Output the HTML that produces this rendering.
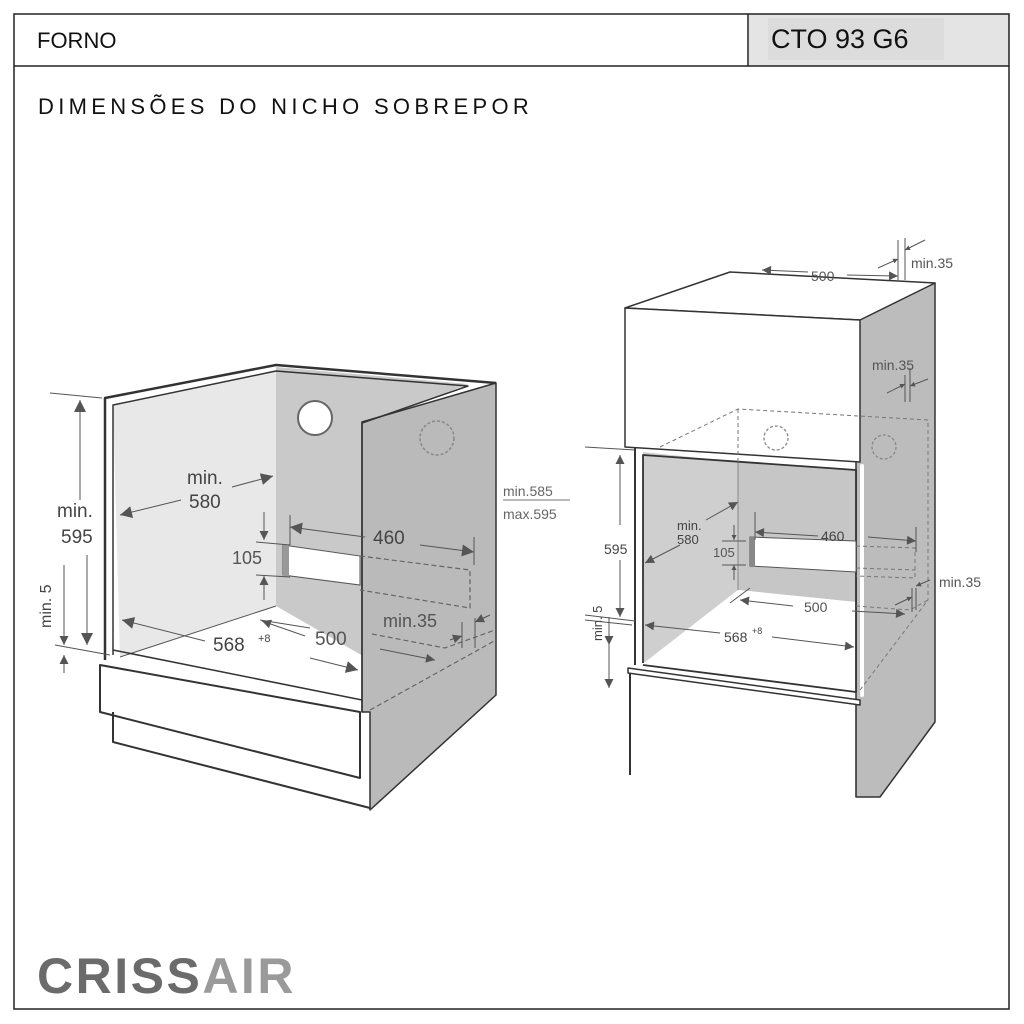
<!DOCTYPE html>
<html><head><meta charset="utf-8"><style>
html,body{margin:0;padding:0;background:#fff}
svg{display:block}
text{font-family:"Liberation Sans",sans-serif}
</style></head><body>
<svg width="1024" height="1024" viewBox="0 0 1024 1024" xmlns="http://www.w3.org/2000/svg">
<defs>
<marker id="a" viewBox="0 0 10 10" refX="10" refY="5" markerWidth="7" markerHeight="5" orient="auto-start-reverse" markerUnits="userSpaceOnUse"><path d="M0,0L10,5L0,10z" fill="#555"/></marker>
<marker id="b" viewBox="0 0 10 10" refX="10" refY="5" markerWidth="22" markerHeight="12" orient="auto-start-reverse" markerUnits="userSpaceOnUse"><path d="M0,0L10,5L0,10z" fill="#555"/></marker>
<marker id="c" viewBox="0 0 10 10" refX="10" refY="5" markerWidth="16" markerHeight="9" orient="auto-start-reverse" markerUnits="userSpaceOnUse"><path d="M0,0L10,5L0,10z" fill="#555"/></marker>
</defs>
<!-- frame -->
<rect x="749" y="14" width="260" height="52" fill="#e4e4e4"/>
<rect x="768" y="18" width="176" height="42" fill="#dcdcdc"/>
<rect x="14" y="14" width="995" height="995" fill="none" stroke="#222" stroke-width="1.5"/>
<line x1="14" y1="66" x2="1009" y2="66" stroke="#222" stroke-width="1.5"/>
<line x1="748" y1="14" x2="748" y2="66" stroke="#222" stroke-width="1.5"/>
<text x="37" y="48" font-size="22" fill="#111">FORNO</text>
<text x="771" y="48" font-size="27" fill="#111">CTO 93 G6</text>
<text x="38" y="114" font-size="22" fill="#111" letter-spacing="4.3">DIMENSÕES DO NICHO SOBREPOR</text>
<text x="37" y="993" font-size="50" font-weight="bold" fill="#6b6b6b" letter-spacing="2.5">CRISS<tspan fill="#9a9a9a">AIR</tspan></text>

<!-- LEFT CABINET -->
<g stroke="#333" stroke-width="1.5" stroke-linejoin="round">
<polygon points="276,367 468,384 370,424 370,660 276,606" fill="#c9c9c9" stroke="none"/>
<polygon points="113,405 276,370 276,606 120,657" fill="#e8e8e8" stroke="none"/>
<polygon points="120,657 276,606 360,662 360,712" fill="#fff" stroke="none"/>
<polygon points="362,422 496,383 496,695 370,810 370,712 362,712" fill="#bababa"/>
<polyline points="105,660 105,398 276,365 496,383" fill="none" stroke-width="2.5"/>
<polyline points="113,655 113,405 276,371 468,386 362,423 362,712" fill="none" stroke-width="1.5"/>
<line x1="120" y1="657" x2="276" y2="606" stroke="#555" stroke-width="1"/>
<polygon points="100,665 360,712 360,778 100,712" fill="#fff" stroke-width="2"/>
<polyline points="113,712 113,742 370,808" fill="none" stroke-width="2"/>
<line x1="113" y1="650" x2="362" y2="700" stroke="#333" stroke-width="1.5"/>
</g>
<circle cx="315" cy="418" r="17" fill="#fff" stroke="#666" stroke-width="2"/>
<circle cx="437" cy="438" r="17" fill="none" stroke="#888" stroke-width="1.5" stroke-dasharray="3,2"/>
<!-- slot -->
<polygon points="283,545 360,556 360,585 283,575" fill="#fff" stroke="#555"/>
<rect x="283" y="545" width="6" height="32" fill="#999"/>
<g stroke="#666" stroke-width="1.2" stroke-dasharray="5,3" fill="none">
<polyline points="360,556 470,570 470,608 360,590"/>
<polyline points="372,634 445,648 495,630"/>
<line x1="370" y1="710" x2="496" y2="640"/>
</g>
<!-- left dims -->
<g stroke="#555" stroke-width="1" fill="none">
<line x1="50" y1="393" x2="102" y2="398"/>
<line x1="55" y1="645" x2="110" y2="655"/>
<line x1="80" y1="400" x2="80" y2="500" marker-start="url(#b)"/>
<line x1="87" y1="555" x2="87" y2="645" marker-end="url(#b)"/>
<line x1="64" y1="565" x2="64" y2="645" marker-end="url(#c)"/>
<line x1="64" y1="673" x2="64" y2="655" marker-end="url(#c)"/>
<line x1="181" y1="500" x2="120" y2="515" marker-end="url(#b)"/>
<line x1="232" y1="487" x2="273" y2="476" marker-end="url(#b)"/>
<line x1="264" y1="512" x2="264" y2="540" marker-end="url(#c)"/>
<line x1="264" y1="600" x2="264" y2="576" marker-end="url(#c)"/>
<line x1="256" y1="542" x2="290" y2="545"/><line x1="256" y1="575" x2="290" y2="577"/>
<line x1="290" y1="515" x2="290" y2="545"/><line x1="474" y1="537" x2="474" y2="565"/>
<line x1="365" y1="537" x2="290" y2="527" marker-end="url(#b)"/>
<line x1="420" y1="545" x2="474" y2="552" marker-end="url(#b)"/>
<line x1="205" y1="641" x2="122" y2="620" marker-end="url(#b)"/>
<line x1="310" y1="658" x2="358" y2="670" marker-end="url(#b)"/>
<line x1="310" y1="628" x2="260" y2="620"/>
<line x1="305" y1="636" x2="262" y2="621" marker-end="url(#c)"/>
<line x1="380" y1="649" x2="435" y2="660" marker-end="url(#c)"/>
<line x1="462" y1="622" x2="462" y2="648"/><line x1="475" y1="618" x2="475" y2="648"/>
<line x1="450" y1="640" x2="462" y2="636" marker-end="url(#c)"/>
<line x1="490" y1="615" x2="475" y2="622" marker-end="url(#c)"/>
<line x1="503" y1="500" x2="570" y2="500" stroke="#777"/>
</g>
<g fill="#444">
<text x="187" y="484" font-size="19">min.</text>
<text x="189" y="508" font-size="19">580</text>
<text x="57" y="517" font-size="19">min.</text>
<text x="61" y="543" font-size="19">595</text>
<text x="51" y="628" font-size="16" transform="rotate(-90 51 628)">min. 5</text>
<text x="232" y="564" font-size="18" fill="#555">105</text>
<text x="373" y="544" font-size="19">460</text>
<text x="213" y="651" font-size="19">568</text>
<text x="258" y="642" font-size="11">+8</text>
<text x="315" y="645" font-size="19" fill="#555">500</text>
<text x="383" y="627" font-size="18" fill="#555">min.35</text>
<text x="503" y="496" font-size="14" fill="#666">min.585</text>
<text x="503" y="519" font-size="14" fill="#666">max.595</text>
</g>

<!-- RIGHT CABINET -->
<g stroke="#333" stroke-width="1.5" stroke-linejoin="round">
<polygon points="856,320 935,283 935,722 880,797 856,797" fill="#bcbcbc"/>
<polygon points="625,308 730,272 935,283 860,320" fill="#fff"/>
<polygon points="625,308 860,320 860,462 625,447" fill="#fff"/>
<polygon points="643,452 738,462 738,590 644,663" fill="#cfcfcf" stroke="none"/>
<polygon points="738,462 856,470 856,602 738,590" fill="#c6c6c6" stroke="none"/>
<polygon points="644,663 738,590 856,602 856,692" fill="#fff" stroke="none"/>
<line x1="738" y1="462" x2="738" y2="590" stroke="#888" stroke-width="1"/>
<polyline points="643,663 643,455 856,470 856,692 643,665" fill="none" stroke-width="1.8"/>
<polygon points="862,466 862,695" fill="none" stroke="#fff" stroke-width="4"/>
<line x1="635" y1="447" x2="635" y2="665" stroke-width="2"/>
<polygon points="628,668 860,700 860,705 628,673" fill="#fff" stroke-width="1.5"/>
<line x1="630" y1="673" x2="630" y2="775" stroke-width="2"/>
<line x1="856" y1="705" x2="856" y2="797" stroke-width="1.2"/>
</g>
<polygon points="750,537 856,541 856,572 750,566" fill="#fff" stroke="#555"/>
<rect x="750" y="537" width="5" height="30" fill="#888"/>
<circle cx="776" cy="438" r="12" fill="none" stroke="#888" stroke-dasharray="3,2" stroke-width="1.3"/>
<circle cx="884" cy="447" r="12" fill="none" stroke="#888" stroke-dasharray="3,2" stroke-width="1.3"/>
<g stroke="#777" stroke-width="1" stroke-dasharray="4,3" fill="none">
<polyline points="660,447 738,409 928,420 928,600"/>
<line x1="738" y1="409" x2="738" y2="462"/>
<polyline points="856,546 915,548 915,578 856,576"/>
<line x1="856" y1="568" x2="915" y2="570"/>
<polyline points="856,606 910,610 928,600"/>
<line x1="860" y1="690" x2="928" y2="600"/>
</g>
<g stroke="#555" stroke-width="1" fill="none">
<line x1="585" y1="447" x2="635" y2="450"/>
<line x1="585" y1="615" x2="635" y2="621"/><line x1="585" y1="620" x2="632" y2="625"/>
<line x1="620" y1="525" x2="620" y2="455" marker-end="url(#c)"/>
<line x1="620" y1="560" x2="620" y2="617" marker-end="url(#c)"/>
<line x1="609" y1="645" x2="609" y2="617" marker-start="url(#c)"/>
<line x1="609" y1="688" x2="609" y2="625" marker-start="url(#c)"/>
<line x1="706" y1="520" x2="738" y2="502" marker-end="url(#c)"/>
<line x1="680" y1="545" x2="645" y2="563" marker-end="url(#c)"/>
<line x1="734" y1="525" x2="734" y2="540" marker-end="url(#a)"/>
<line x1="734" y1="580" x2="734" y2="565" marker-end="url(#a)"/>
<line x1="722" y1="541" x2="746" y2="541"/><line x1="722" y1="565" x2="746" y2="565"/>
<line x1="755" y1="512" x2="755" y2="540"/><line x1="916" y1="527" x2="916" y2="552"/>
<line x1="818" y1="536" x2="755" y2="532" marker-end="url(#c)"/>
<line x1="868" y1="537" x2="916" y2="541" marker-end="url(#c)"/>
<line x1="793" y1="606" x2="740" y2="600" marker-end="url(#c)"/>
<line x1="852" y1="611" x2="905" y2="614" marker-end="url(#c)"/>
<line x1="720" y1="633" x2="645" y2="625" marker-end="url(#c)"/>
<line x1="772" y1="637" x2="854" y2="647" marker-end="url(#c)"/>
<line x1="730" y1="603" x2="750" y2="588"/>
<line x1="912" y1="588" x2="912" y2="612"/><line x1="916" y1="588" x2="916" y2="610"/>
<line x1="895" y1="605" x2="912" y2="597" marker-end="url(#a)"/>
<line x1="930" y1="580" x2="916" y2="586" marker-end="url(#a)"/>
<line x1="905" y1="375" x2="905" y2="402"/><line x1="910" y1="368" x2="910" y2="402"/>
<line x1="887" y1="393" x2="905" y2="384" marker-end="url(#a)"/>
<line x1="928" y1="379" x2="910" y2="386" marker-end="url(#a)"/>
<line x1="898" y1="240" x2="898" y2="280"/><line x1="905" y1="238" x2="905" y2="280"/>
<line x1="878" y1="268" x2="898" y2="259" marker-end="url(#a)"/>
<line x1="925" y1="240" x2="905" y2="250" marker-end="url(#a)"/>
<line x1="808" y1="272" x2="762" y2="270" marker-end="url(#c)"/>
<line x1="847" y1="275" x2="898" y2="276" marker-end="url(#c)"/>
</g>
<g fill="#444">
<text x="604" y="554" font-size="14">595</text>
<text x="602" y="641" font-size="13" transform="rotate(-90 602 641)">min. 5</text>
<text x="677" y="530" font-size="13">min.</text>
<text x="677" y="544" font-size="13">580</text>
<text x="713" y="557" font-size="13" fill="#555">105</text>
<text x="821" y="541" font-size="14">460</text>
<text x="804" y="612" font-size="14" fill="#555">500</text>
<text x="724" y="642" font-size="14">568</text>
<text x="752" y="634" font-size="9">+8</text>
<text x="811" y="281" font-size="14" fill="#555">500</text>
<text x="911" y="268" font-size="14" fill="#555">min.35</text>
<text x="872" y="370" font-size="14" fill="#555">min.35</text>
<text x="939" y="587" font-size="14" fill="#555">min.35</text>
</g>
</svg>
</body></html>
